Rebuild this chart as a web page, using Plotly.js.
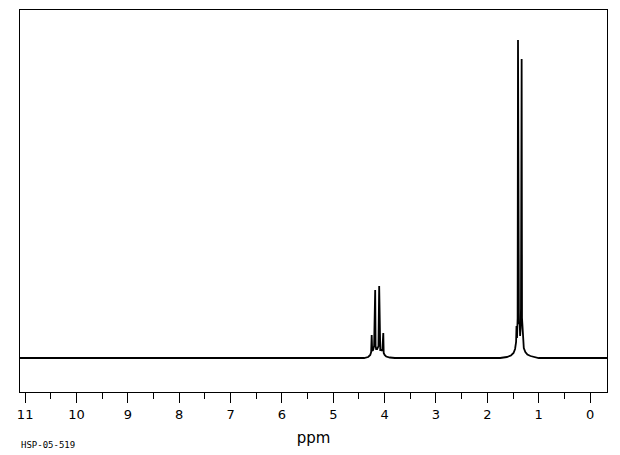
<!DOCTYPE html>
<html>
<head>
<meta charset="utf-8">
<script src="https://cdn.plot.ly/plotly-3.0.1.min.js"></script>
<style>html,body{margin:0;padding:0;background:#fff;}#chart{width:620px;height:455px;}</style>
</head>
<body>
<div id="chart"></div>
<script>
// Chemical shift (ppm) of trace points
var shiftPpm = [11.10, 9.0, 7.0, 5.0, 4.40, 4.32, 4.28, 4.262, 4.252, 4.242, 4.225, 4.205, 4.184, 4.176, 4.165, 4.145, 4.12, 4.106, 4.098, 4.085, 4.06, 4.045, 4.026, 4.018, 4.00, 3.97, 3.90, 3.80, 3.0, 2.0, 1.75, 1.62, 1.54, 1.49, 1.46, 1.44, 1.432, 1.422, 1.41, 1.403, 1.396, 1.385, 1.37, 1.362, 1.352, 1.345, 1.332, 1.325, 1.31, 1.29, 1.26, 1.22, 1.16, 1.08, 1.0, 0.0, -0.33];
// Intensity (arbitrary units) of trace points
var intensity = [0, 0, 0, 0, 0, 1, 3, 6, 23, 7, 8, 12, 68, 12, 9, 9, 12, 72, 12, 8, 8, 7, 25, 5, 3, 1.5, 0.5, 0, 0, 0, 0, 1, 2.5, 5, 9, 16, 32, 20, 40, 318, 42, 34, 36, 22, 30, 50, 299, 40, 18, 10, 6, 3.5, 2, 1, 0, 0, 0];
// Axis tick labels
var tickVals = [11, 10, 9, 8, 7, 6, 5, 4, 3, 2, 1, 0];
var tickText = ["11", "10", "9", "8", "7", "6", "5", "4", "3", "2", "1", "0"];
var sampleId = "HSP-05-519";

var trace = {
  x: shiftPpm,
  y: intensity,
  type: "scatter",
  mode: "lines",
  line: {color: "#000000", width: 1.8},
  hoverinfo: "none"
};

var layout = {
  width: 620,
  height: 455,
  margin: {l: 20, r: 13, t: 10, b: 63},
  paper_bgcolor: "#ffffff",
  plot_bgcolor: "#ffffff",
  showlegend: false,
  xaxis: {
    range: [11.10, -0.33],
    tickvals: tickVals,
    ticktext: tickText,
    ticks: "outside",
    ticklen: 10,
    tickwidth: 1,
    tickcolor: "#000",
    showgrid: false,
    zeroline: false,
    showline: true,
    linecolor: "#000",
    linewidth: 1,
    mirror: true,
    tickfont: {family: "DejaVu Sans, sans-serif", size: 13, color: "#000"},
    minor: {dtick: 0.5, tick0: 0, ticks: "outside", ticklen: 6, tickwidth: 1, tickcolor: "#000", showgrid: false},
    title: {text: "ppm", font: {family: "DejaVu Sans, sans-serif", size: 15, color: "#000"}, standoff: 11}
  },
  yaxis: {
    range: [-34, 348],
    showticklabels: false,
    ticks: "",
    showgrid: false,
    zeroline: false,
    showline: true,
    linecolor: "#000",
    linewidth: 1,
    mirror: true
  },
  annotations: [{
    text: sampleId,
    xref: "paper", yref: "paper",
    x: -0.002, y: -0.138,
    xanchor: "left", yanchor: "middle",
    showarrow: false,
    font: {family: "DejaVu Sans Mono, monospace", size: 9, color: "#000"}
  }]
};

Plotly.newPlot("chart", [trace], layout, {staticPlot: true, displayModeBar: false});
</script>
</body>
</html>
